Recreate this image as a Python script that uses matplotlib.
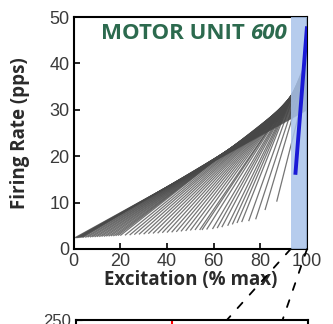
import matplotlib
matplotlib.use('Agg')
import matplotlib.pyplot as plt
from matplotlib.patches import ConnectionPatch

# recruitment thresholds (% max excitation), start rates and peak rates (pps)
thresholds = [0.5, 1, 1.5, 2, 2.5, 3, 3.5, 4,
              5, 6, 7, 8, 9, 10, 11, 12, 13, 14, 15, 16, 17, 18, 19, 20,
              22, 24, 26, 28, 30, 32, 34, 36, 38, 40, 42, 44, 46, 48, 50, 52, 54,
              55, 57, 59.5, 61.5, 63.5, 66, 68, 70, 72, 75, 78, 82, 87]
start_rates = [2.4, 2.4, 2.4, 2.45, 2.45, 2.5, 2.5, 2.5,
               2.5, 2.55, 2.55, 2.6, 2.6, 2.65, 2.65, 2.7, 2.7, 2.75, 2.75, 2.8, 2.8, 2.85, 2.9, 2.9,
               2.95, 3.0, 3.1, 3.15, 3.2, 3.3, 3.35, 3.4, 3.5, 3.55, 3.6, 3.7, 3.8, 3.9, 4.0, 4.1, 4.1,
               4.1, 4.2, 4.3, 4.5, 4.7, 5.0, 5.3, 5.6, 5.8, 6.0, 6.4, 8.4, 10.2]
peak_rates = [30, 30.2, 30.4, 30.6, 30.8, 31, 31.2, 31.4,
              31.6, 31.8, 32, 32.2, 32.4, 32.6, 32.8, 33, 33.2, 33.4, 33.6, 33.8, 34, 34.2, 34.4, 34.6,
              34.8, 35, 35.2, 35.4, 35.6, 35.8, 36, 36.2, 36.4, 36.6, 36.8, 37, 37.2, 37.4, 37.6, 37.8, 38,
              38.2, 38.5, 38.8, 39.1, 39.4, 39.8, 40.2, 40.6, 41, 41, 40, 39, 36]
max_exc = 100

# motor unit 600
mu600_x = [95, 100]
mu600_y = [16, 48]

shade_lo, shade_hi = 93, 100
xticks = [0, 20, 40, 60, 80, 100]
yticks = [0, 10, 20, 30, 40, 50]

# lower panel (only its top edge is visible)
lower_top = 250
red_mark = 0.414
win_lo, win_hi = 0.65, 0.89

label_font = ['Open Sans', 'DejaVu Sans']
tick_font = ['Liberation Sans', 'DejaVu Sans']

fig = plt.figure(figsize=(3.33, 3.24), dpi=100)
ax = fig.add_axes([0.221, 0.2315, 0.701, 0.716])

for t, r0, p in zip(thresholds, start_rates, peak_rates):
    ax.plot([t, max_exc], [r0, p], color='0.28', lw=0.9, alpha=0.75,
            solid_capstyle='butt')

ax.axvspan(shade_lo, shade_hi, color='#a9c3ea', alpha=0.85, lw=0, zorder=3)
ax.plot(mu600_x, mu600_y, color='#1a1ad6', lw=2.8, zorder=4,
        solid_capstyle='butt')

ax.set_xlim(0, 100)
ax.set_ylim(0, 50)
ax.set_xticks(xticks)
ax.set_yticks(yticks)
ax.tick_params(direction='in', length=4, width=1.2, colors='black',
               labelcolor='#3a3a3a', labelsize=13, pad=3)
for lab in ax.get_xticklabels() + ax.get_yticklabels():
    lab.set_family(tick_font)
for s in ax.spines.values():
    s.set_linewidth(1.5)

ax.text(0.735, 0.975, 'MOTOR UNIT', transform=ax.transAxes, ha='right',
        va='top', fontsize=16, fontweight='bold', color='#2c6a4e',
        family=label_font)
ax.text(0.757, 0.975, '600', transform=ax.transAxes, ha='left', va='top',
        fontsize=16, fontweight='bold', style='italic', color='#2c6a4e',
        family=label_font)

ax.set_xlabel('Excitation (% max)', fontsize=13.5, fontweight='bold',
              color='#2a2a2a', family=label_font, labelpad=0)
ax.set_ylabel('Firing Rate (pps)', fontsize=13.5, fontweight='bold',
              color='#2a2a2a', family=label_font, labelpad=14)

ax2 = fig.add_axes([0.228, -0.488, 0.697, 0.5])
ax2.set_xlim(0, 1)
ax2.set_ylim(0, lower_top)
ax2.set_xticks([])
ax2.set_yticks([lower_top])
ax2.tick_params(direction='in', length=4, labelsize=12, labelcolor='#3a3a3a')
for lab in ax2.get_yticklabels():
    lab.set_family(tick_font)
for s in ax2.spines.values():
    s.set_linewidth(1.5)
ax2.axvline(red_mark, color='red', lw=1.5)

for xa, xb in [(shade_lo, win_lo), (shade_hi, win_hi)]:
    con = ConnectionPatch(xyA=(xa, 0), coordsA=ax.transData,
                          xyB=(xb, 1), coordsB=ax2.transAxes,
                          color='black', lw=1.3, linestyle=(0, (4, 6)))
    fig.add_artist(con)

fig.savefig('out.png', dpi=100)
